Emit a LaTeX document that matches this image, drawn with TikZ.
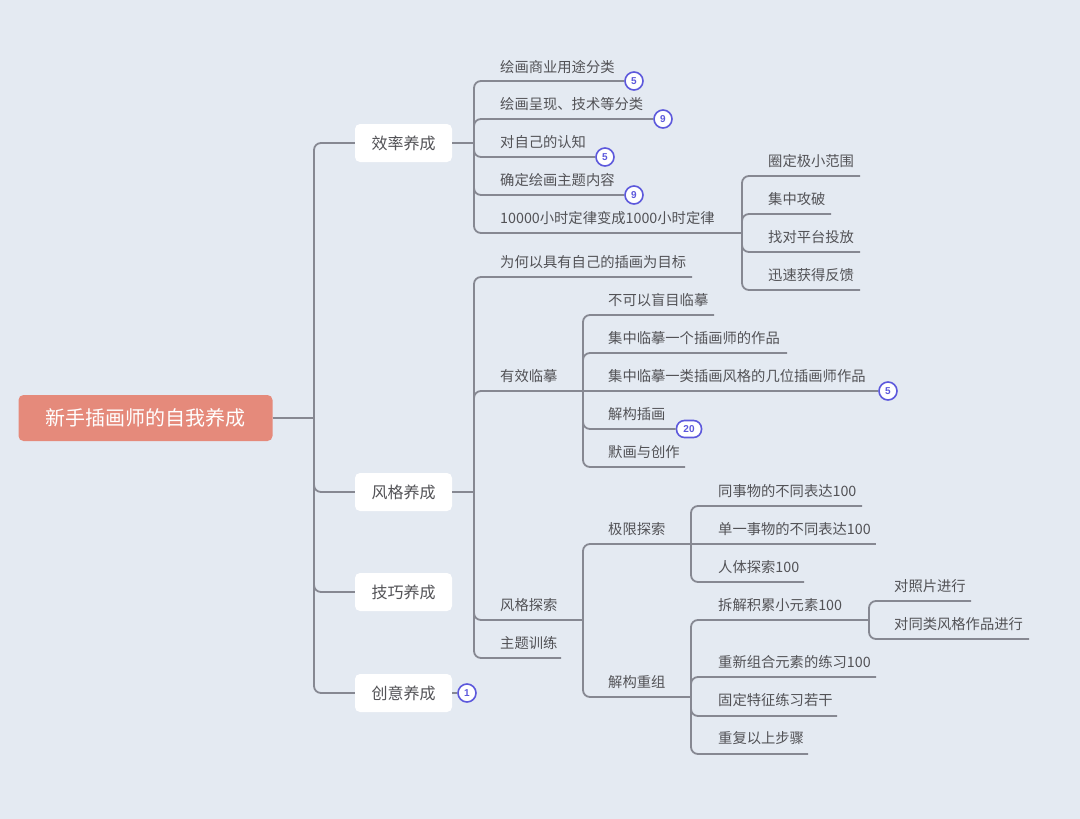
\documentclass[tikz,border=0pt]{standalone}
\usepackage{fontspec}
\setmainfont{Noto Sans CJK SC}
\newfontfamily\bfont{Liberation Sans}
\definecolor{bg}{RGB}{228,234,242}
\definecolor{ln}{RGB}{134,136,146}
\definecolor{tx}{RGB}{82,82,86}
\definecolor{rootc}{RGB}{229,138,123}
\definecolor{bdg}{RGB}{92,88,220}
\begin{document}
\begin{tikzpicture}[x=1pt,y=-1pt,
  conn/.style={draw=ln, line width=1.8pt, rounded corners=7pt},
  txt/.style={anchor=west, inner sep=0pt, text=tx, font=\fontsize{14.3}{14.3}\selectfont},
  lone/.style={fill=white, rounded corners=5pt, minimum width=97pt, minimum height=38pt, inner sep=0pt, text=tx, font=\fontsize{16}{16}\selectfont},
  rootbox/.style={fill=rootc, rounded corners=5pt, minimum width=254pt, minimum height=46pt, inner sep=0pt, text=white, font=\fontsize{20}{20}\selectfont},
  badge/.style={circle, draw=bdg, line width=1.6pt, fill=white, minimum size=18pt, inner sep=0pt, text=bdg, font=\bfont\bfseries\fontsize{10}{10}\selectfont},
  pill/.style={rectangle, rounded corners=8pt, draw=bdg, line width=1.6pt, fill=white, minimum width=25pt, minimum height=17pt, inner sep=0pt, text=bdg, font=\bfont\bfseries\fontsize{10}{10}\selectfont}
]
\fill[bg] (0,0) rectangle (1080,819);
\useasboundingbox (0,0) rectangle (1080,819);

% root and level 1
\node[rootbox] (root) at (145.5,418) {新手插画师的自我养成};
\node[lone] (e1) at (403.5,143) {效率养成};
\node[lone] (s1) at (403.5,492) {风格养成};
\node[lone] (t1) at (403.5,592) {技巧养成};
\node[lone] (c1) at (403.5,693) {创意养成};
\coordinate (j0) at (314,418);
\draw[conn] (root.east) -- (j0);
\draw[conn] (j0) |- (e1.west);
\draw[conn] (j0) |- (s1.west);
\draw[conn] (j0) |- (t1.west);
\draw[conn] (j0) |- (c1.west);
\node[badge] (bc) at (467,693) {1};
\draw[conn] (c1.east) -- (bc.west);

% efficiency branch
\coordinate (j1) at (474,143);
\draw[conn] (e1.east) -- (j1);
\node[txt] (a1) at (500,67) {绘画商业用途分类};
\node[txt] (a2) at (500,104) {绘画呈现、技术等分类};
\node[txt] (a3) at (500,142) {对自己的认知};
\node[txt] (a4) at (500,180) {确定绘画主题内容};
\node[txt] (a5) at (500,218) {10000小时定律变成1000小时定律};
\node[badge] (ba1) at (634,81) {5};
\node[badge] (ba2) at (663,119) {9};
\node[badge] (ba3) at (605,157) {5};
\node[badge] (ba4) at (634,195) {9};
\coordinate (j5) at (742,233);
\draw[conn] (j1) |- (ba1.west);
\draw[conn] (j1) |- (ba2.west);
\draw[conn] (j1) |- (ba3.west);
\draw[conn] (j1) |- (ba4.west);
\draw[conn] (j1) |- (j5);
\node[txt] (b1) at (768,161) {圈定极小范围};
\node[txt] (b2) at (768,199) {集中攻破};
\node[txt] (b3) at (768,237) {找对平台投放};
\node[txt] (b4) at (768,275) {迅速获得反馈};
\coordinate (b1e) at (860,176);
\coordinate (b2e) at (831,214);
\coordinate (b3e) at (860,252);
\coordinate (b4e) at (860,290);
\draw[conn] (j5) |- (b1e);
\draw[conn] (j5) |- (b2e);
\draw[conn] (j5) |- (b3e);
\draw[conn] (j5) |- (b4e);

% style branch
\coordinate (j2) at (474,492);
\draw[conn] (s1.east) -- (j2);
\node[txt] (d1) at (500,262) {为何以具有自己的插画为目标};
\node[txt] (d2) at (500,376) {有效临摹};
\node[txt] (d3) at (500,605) {风格探索};
\node[txt] (d4) at (500,643) {主题训练};
\coordinate (d1e) at (692,277);
\coordinate (j3) at (583,391);
\coordinate (j4) at (583,620);
\coordinate (d4e) at (561,658);
\draw[conn] (j2) |- (d1e);
\draw[conn] (j2) |- (j3);
\draw[conn] (j2) |- (j4);
\draw[conn] (j2) |- (d4e);

% effective copying
\node[txt] (f1) at (608,300) {不可以盲目临摹};
\node[txt] (f2) at (608,338) {集中临摹一个插画师的作品};
\node[txt] (f3) at (608,376) {集中临摹一类插画风格的几位插画师作品};
\node[txt] (f4) at (608,414) {解构插画};
\node[txt] (f5) at (608,452) {默画与创作};
\coordinate (f1e) at (714,315);
\coordinate (f2e) at (787,353);
\node[badge] (bf3) at (888,391) {5};
\node[pill] (bf4) at (689,429) {20};
\coordinate (f5e) at (685,467);
\draw[conn] (j3) |- (f1e);
\draw[conn] (j3) |- (f2e);
\draw[conn] (j3) -- (bf3.west);
\draw[conn] (j3) |- (bf4.west);
\draw[conn] (j3) |- (f5e);

% style exploration
\node[txt] (g1) at (608,529) {极限探索};
\node[txt] (g2) at (608,682) {解构重组};
\coordinate (j6) at (691,544);
\coordinate (j7) at (691,697);
\draw[conn] (j4) |- (j6);
\draw[conn] (j4) |- (j7);

\node[txt] (h1) at (718,491) {同事物的不同表达100};
\node[txt] (h2) at (718,529) {单一事物的不同表达100};
\node[txt] (h3) at (718,567) {人体探索100};
\coordinate (h1e) at (862,506);
\coordinate (h2e) at (876,544);
\coordinate (h3e) at (804,582);
\draw[conn] (j6) |- (h1e);
\draw[conn] (j6) -- (h2e);
\draw[conn] (j6) |- (h3e);

\node[txt] (k1) at (718,605) {拆解积累小元素100};
\node[txt] (k2) at (718,662) {重新组合元素的练习100};
\node[txt] (k3) at (718,700) {固定特征练习若干};
\node[txt] (k4) at (718,738) {重复以上步骤};
\coordinate (j8) at (869,620);
\coordinate (k2e) at (876,677);
\coordinate (k3e) at (837,716);
\coordinate (k4e) at (808,754);
\draw[conn] (j7) |- (j8);
\draw[conn] (j7) |- (k2e);
\draw[conn] (j7) |- (k3e);
\draw[conn] (j7) |- (k4e);

\node[txt] (m1) at (894,586) {对照片进行};
\node[txt] (m2) at (894,624) {对同类风格作品进行};
\coordinate (m1e) at (971,601);
\coordinate (m2e) at (1029,639);
\draw[conn] (j8) |- (m1e);
\draw[conn] (j8) |- (m2e);
\end{tikzpicture}
\end{document}
